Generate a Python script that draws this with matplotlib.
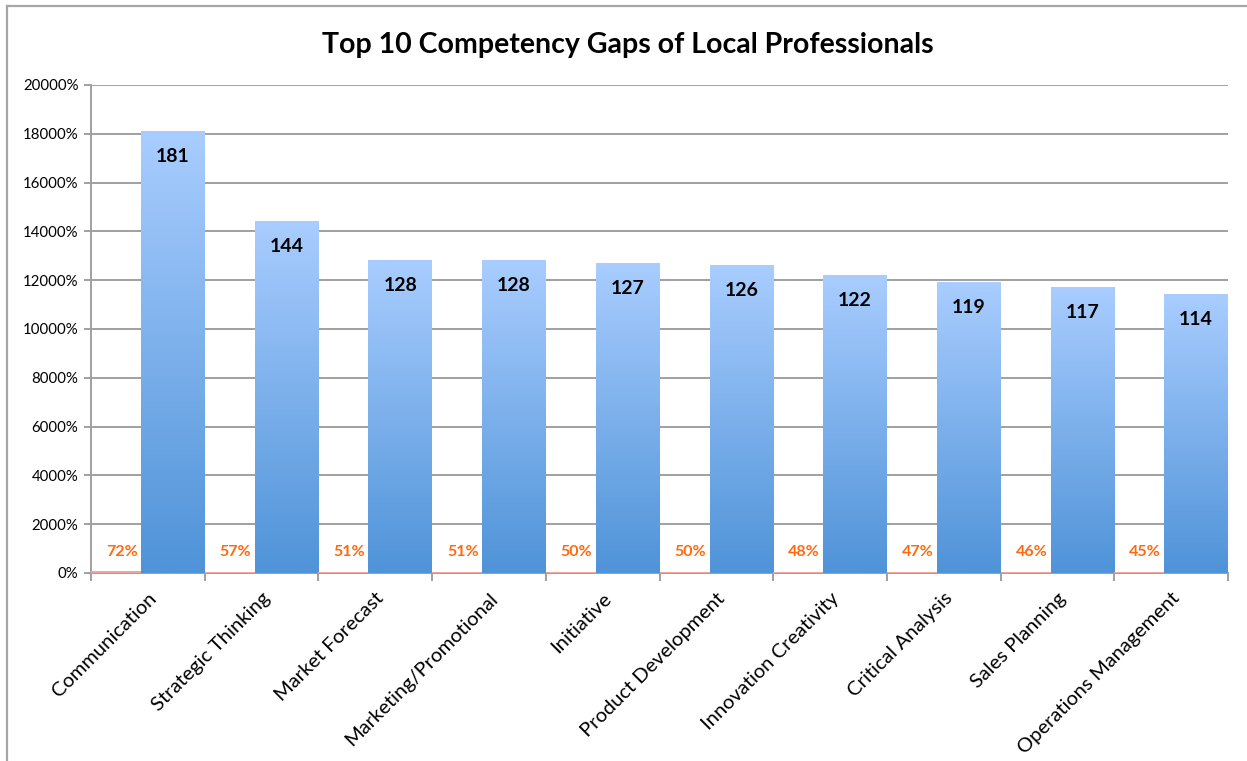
import matplotlib
matplotlib.use("Agg")
from matplotlib import pyplot as plt
from matplotlib.colors import LinearSegmentedColormap
from matplotlib.lines import Line2D
import numpy as np

plt.rcParams['font.family'] = ['Lato', 'DejaVu Sans']

categories = ["Communication", "Strategic Thinking", "Market Forecast",
              "Marketing/Promotional", "Initiative", "Product Development",
              "Innovation Creativity", "Critical Analysis", "Sales Planning",
              "Operations Management"]
counts = [181, 144, 128, 128, 127, 126, 122, 119, 117, 114]
shares = [0.72, 0.57, 0.51, 0.51, 0.50, 0.50, 0.48, 0.47, 0.46, 0.45]
share_labels = ["72%", "57%", "51%", "51%", "50%", "50%", "48%", "47%", "46%", "45%"]

fig = plt.figure(figsize=(12.47, 7.61), dpi=100)
ax = fig.add_axes([91 / 1247, 1 - 573 / 761, (1228 - 91) / 1247, (573 - 85) / 761])

# outer frame of the chart (left and top edges visible)
fig.add_artist(Line2D([7 / 1247, 7 / 1247], [0, 1 - 6 / 761], color="#a6a6a6", lw=1.6,
                      transform=fig.transFigure))
fig.add_artist(Line2D([7 / 1247, 1], [1 - 6 / 761, 1 - 6 / 761], color="#a6a6a6", lw=1.6,
                      transform=fig.transFigure))

x = np.arange(len(categories))
w_orange = 0.44
w_blue = 0.56

cmap = LinearSegmentedColormap.from_list("bluegrad", ["#4f93d8", "#a9cdff"])
grad = np.linspace(0, 1, 256).reshape(-1, 1)

bars = ax.bar(x + w_orange, counts, width=w_blue, align="edge", color="none",
              edgecolor="none", zorder=3)
for b in bars:
    x0 = b.get_x()
    h = b.get_height()
    ax.imshow(grad, cmap=cmap, origin="lower", aspect="auto",
              extent=[x0, x0 + b.get_width(), 0, h], zorder=3)

ax.bar(x, shares, width=w_orange, align="edge", color="#f2a49a", zorder=3)

for i, v in enumerate(counts):
    ax.annotate(str(v), (x[i] + w_orange + w_blue / 2, v), xytext=(0, -18),
                textcoords="offset points", ha="center", va="center",
                fontsize=14, fontweight="bold", color="black", zorder=5)
for i, lab in enumerate(share_labels):
    ax.annotate(lab, (x[i] + w_orange / 2 + 0.05, 0), xytext=(0, 15),
                textcoords="offset points", ha="center", va="center",
                fontsize=11.5, fontweight="bold", color="#ff6a10", zorder=5)

ax.set_xlim(0, 10)
ax.set_ylim(0, 200)
ax.set_yticks(np.arange(0, 201, 20))
ax.yaxis.set_major_formatter(matplotlib.ticker.FuncFormatter(lambda v, p: f"{v * 100:.0f}%"))
ax.grid(axis="y", color="#a0a0a0", lw=1.4, zorder=1)
ax.set_axisbelow(True)

ax.set_xticks(np.arange(0, 11), minor=False)
ax.set_xticklabels([])
ax.set_xticks(x + 0.5, minor=True)
ax.set_xticklabels(categories, minor=True, rotation=45, ha="right", va="top",
                   rotation_mode="anchor", fontsize=14.5)
ax.tick_params(axis="x", which="minor", length=0, pad=12)
ax.tick_params(axis="x", which="major", length=6, width=1.4, color="#a0a0a0")
ax.tick_params(axis="y", length=5, width=1.4, color="#a0a0a0", labelsize=10.8, pad=4)

for s in ["top", "right"]:
    ax.spines[s].set_visible(False)
for s in ["left", "bottom"]:
    ax.spines[s].set_color("#a0a0a0")
    ax.spines[s].set_linewidth(1.4)

fig.text(628 / 1247, 1 - 45 / 761, "Top 10 Competency Gaps of Local Professionals",
         ha="center", va="center", fontsize=20.5, fontweight="bold")

fig.savefig("out.png", dpi=100)
